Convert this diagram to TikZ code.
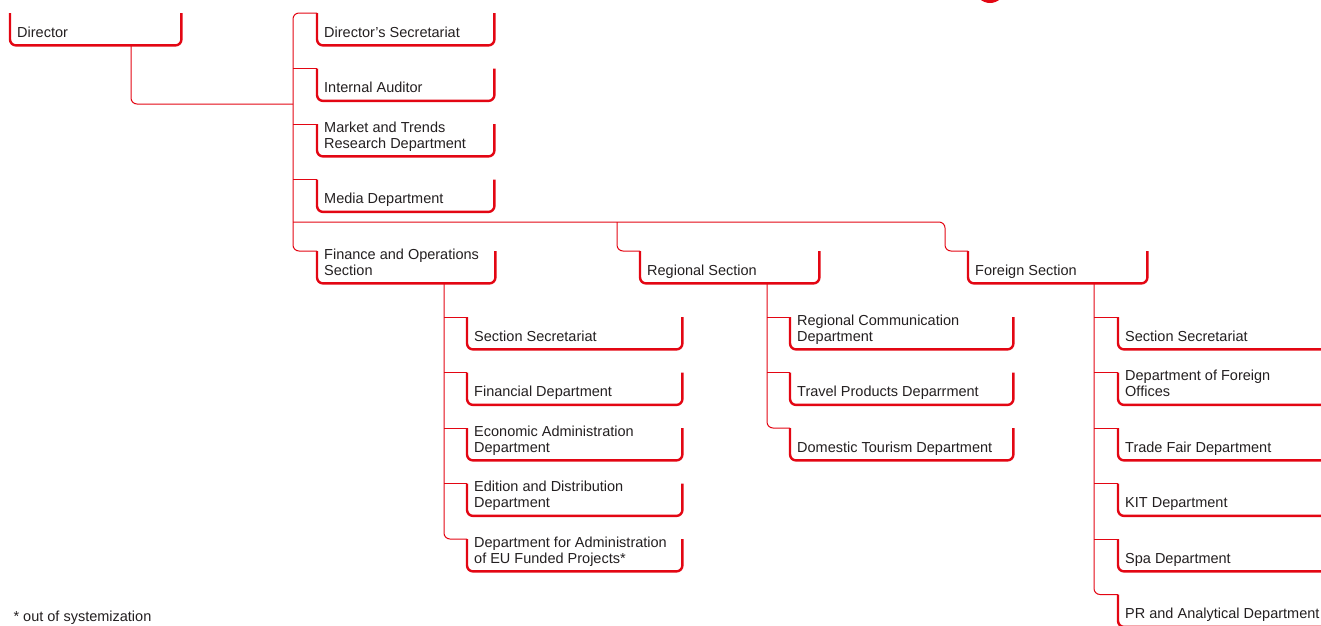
\documentclass[tikz,border=0pt]{standalone}
\usepackage{fontspec}
\setmainfont{Liberation Sans}
\usetikzlibrary{positioning,calc}
\definecolor{orgred}{RGB}{227,6,19}
\definecolor{orgtext}{RGB}{35,31,32}
\tikzset{
  unit/.style={anchor=north west, minimum width=#1pt, inner xsep=7pt, inner ysep=0pt,
    text height=24pt, text depth=8pt, text=orgtext, font=\fontsize{14.5}{16}\selectfont,
    execute at begin node={\begin{minipage}[b]{\dimexpr#1pt-14pt\relax}\raggedright},
    execute at end node={\end{minipage}}},
  bracket/.style={draw=orgred, line width=2.4pt, rounded corners=6pt},
  link/.style={draw=orgred, line width=1pt, rounded corners=6pt}
}

\begin{document}
\begin{tikzpicture}[x=1pt, y=-1pt]
    \useasboundingbox (0,0) rectangle (1321,625);
    \clip (0,0) rectangle (1321,625);
    \fill[orgred] (990,-12) circle (15);

    % director and staff units
    \node[unit=171] (dir) at (10,13) {Director};
    \node[unit=177] (dsec) at (317,13) {Director's Secretariat};
    \node[unit=177] (audit) at (317,68.5) {Internal Auditor};
    \node[unit=177] (market) at (317,124) {Market and Trends\\Research Department};
    \node[unit=177] (media) at (317,179.5) {Media Department};

    % sections
    \node[unit=178] (fin) at (317,251) {Finance and Operations\\Section};
    \node[unit=179] (reg) at (640,251) {Regional Section};
    \node[unit=179] (foreign) at (968,251) {Foreign Section};

    % finance and operations
    \node[unit=215] (fsec) at (467,317) {Section Secretariat};
    \node[unit=215] (fdept) at (467,372.5) {Financial Department};
    \node[unit=215] (econ) at (467,428) {Economic Administration\\Department};
    \node[unit=215] (edit) at (467,483.5) {Edition and Distribution\\Department};
    \node[unit=215] (eu) at (467,539) {Department for Administration\\of EU Funded Projects*};

    % regional
    \node[unit=223] (rcomm) at (790,317) {Regional Communication\\Department};
    \node[unit=223] (travel) at (790,372.5) {Travel Products Deparrment};
    \node[unit=223] (domestic) at (790,428) {Domestic Tourism Department};

    % foreign
    \node[unit=230] (osec) at (1118,317) {Section Secretariat};
    \node[unit=230] (offices) at (1118,372.5) {Department of Foreign\\Offices};
    \node[unit=230] (fair) at (1118,428) {Trade Fair Department};
    \node[unit=230] (kit) at (1118,483.5) {KIT Department};
    \node[unit=230] (spa) at (1118,539) {Spa Department};
    \node[unit=230] (pr) at (1118,594.5) {PR and Analytical Department};

    \node[anchor=base west, text=orgtext, font=\fontsize{14.5}{16}\selectfont] (note) at (10,621) {* out of systemization};

    \foreach \n in {dir,dsec,audit,market,media,fin,reg,foreign,fsec,fdept,econ,edit,eu,rcomm,travel,domestic,osec,offices,fair,kit,spa,pr}
        \draw[bracket] (\n.north west) |- (\n.south east) -- (\n.north east);

    % connectors
    \coordinate (dirj) at (293,104);
    \coordinate (sect) at (293,222);
    \coordinate (regj) at (617,222);
    \coordinate (forj) at (945,222);
    \coordinate (finj) at ([xshift=127pt]fin.south west);
    \coordinate (rj) at ([xshift=127pt]reg.south west);
    \coordinate (fj) at ([xshift=126pt]foreign.south west);

    \draw[link] ([xshift=121pt]dir.south west) |- (dirj);
    \draw[link] (dsec.north west) -| (dirj) |- (fin.north west);
    \draw[link] (audit.north west) -- (audit.north west -| dirj);
    \draw[link] (market.north west) -- (market.north west -| dirj);
    \draw[link] (media.north west) -- (media.north west -| dirj);
    \draw[link] (sect) -- (forj) |- (foreign.north west);
    \draw[link] (reg.north west) -| (regj);

    \draw[link] (finj) |- (eu.north west);
    \draw[link] (fsec.north west) -- (fsec.north west -| finj);
    \draw[link] (fdept.north west) -- (fdept.north west -| finj);
    \draw[link] (econ.north west) -- (econ.north west -| finj);
    \draw[link] (edit.north west) -- (edit.north west -| finj);

    \draw[link] (rj) |- (domestic.north west);
    \draw[link] (rcomm.north west) -- (rcomm.north west -| rj);
    \draw[link] (travel.north west) -- (travel.north west -| rj);

    \draw[link] (fj) |- (pr.north west);
    \draw[link] (osec.north west) -- (osec.north west -| fj);
    \draw[link] (offices.north west) -- (offices.north west -| fj);
    \draw[link] (fair.north west) -- (fair.north west -| fj);
    \draw[link] (kit.north west) -- (kit.north west -| fj);
    \draw[link] (spa.north west) -- (spa.north west -| fj);
\end{tikzpicture}
\end{document}
